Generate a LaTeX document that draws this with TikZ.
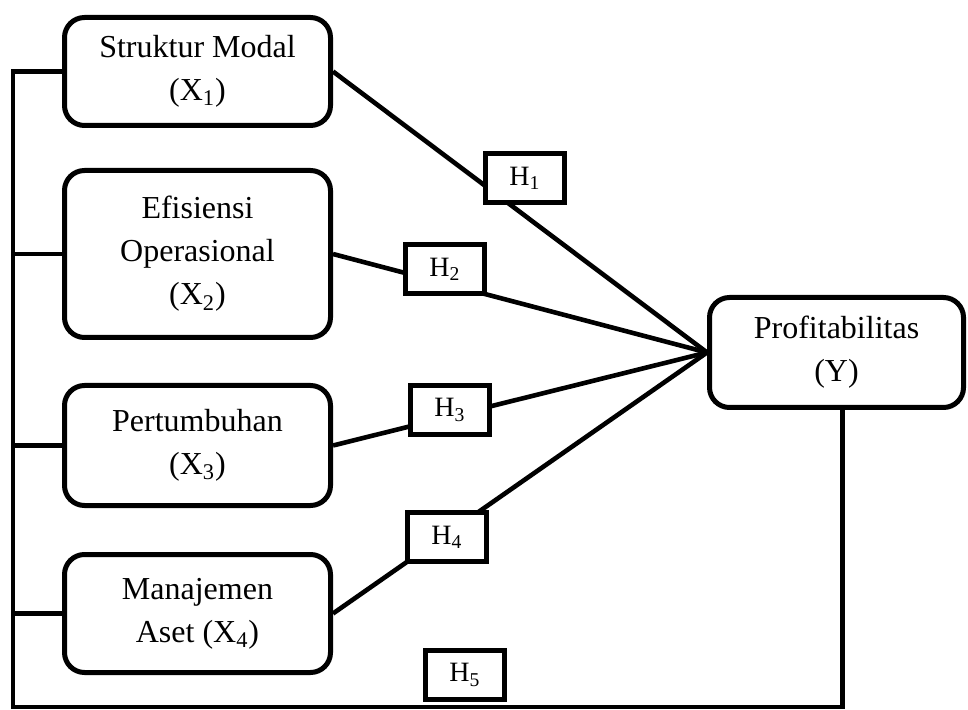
\documentclass[tikz,border=0pt]{standalone}
\usepackage{fontspec}
\setmainfont{Liberation Serif}
\begin{document}
\begin{tikzpicture}[x=0.5pt,y=-0.5pt,
  var/.style={draw,line width=2.5pt,rounded corners=10pt,align=center,inner sep=0pt,
    font=\fontsize{16}{21.5}\selectfont},
  hyp/.style={draw,fill=white,line width=2.5pt,minimum width=39.5pt,minimum height=24.5pt,
    inner sep=0pt,font=\fontsize{14}{16}\selectfont},
  link/.style={line width=2.3pt}]
\useasboundingbox (0,0) rectangle (968,710);

% variables
\node[var,minimum width=133pt,minimum height=54pt] (x1) at (197.5,71.5) {Struktur Modal\\(X\textsubscript{1})};
\node[var,minimum width=133pt,minimum height=83.5pt] (x2) at (197.5,254) {Efisiensi\\Operasional\\(X\textsubscript{2})};
\node[var,minimum width=133pt,minimum height=60pt] (x3) at (197.5,445.5) {Pertumbuhan\\(X\textsubscript{3})};
\node[var,minimum width=133pt,minimum height=59pt] (x4) at (197.5,613.5) {Manajemen\\Aset (X\textsubscript{4})};
\node[var,minimum width=127pt,minimum height=55pt] (y) at (836.5,352.5) {Profitabilitas\\(Y)};

% connectors
\coordinate (corner) at (13,707);
\draw[link] (x1.east) -- (y.west);
\draw[link] (x2.east) -- (y.west);
\draw[link] (x3.east) -- (y.west);
\draw[link] (x4.east) -- (y.west);
\draw[link] (x1.west) -| (corner) -| ([xshift=3pt]y.south);
\draw[link] (x2.west) -- (x2.west -| corner);
\draw[link] (x3.west) -- (x3.west -| corner);
\draw[link] (x4.west) -- (x4.west -| corner);

% hypotheses
\node[hyp] (h1) at (525,178) {H\textsubscript{1}};
\node[hyp] (h2) at (445,269) {H\textsubscript{2}};
\node[hyp] (h3) at (450,410) {H\textsubscript{3}};
\node[hyp] (h4) at (447,537) {H\textsubscript{4}};
\node[hyp] (h5) at (465,675) {H\textsubscript{5}};
\end{tikzpicture}
\end{document}
